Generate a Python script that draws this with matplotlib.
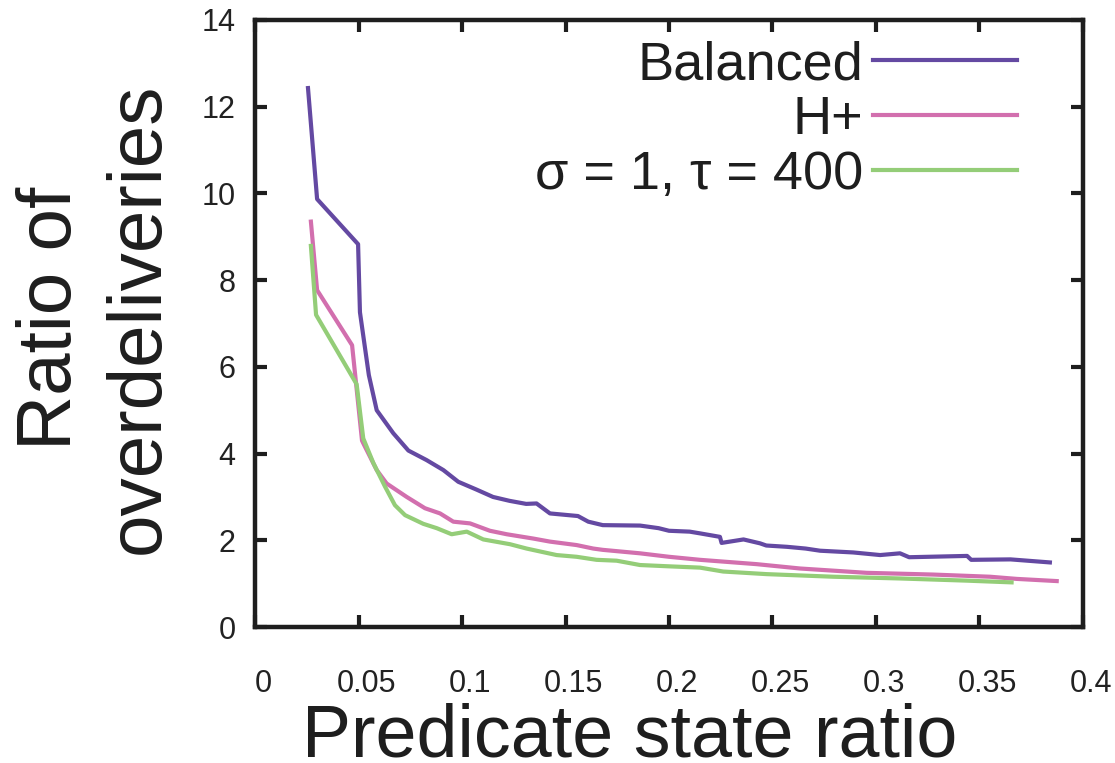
import matplotlib
matplotlib.use('Agg')
import matplotlib.pyplot as plt
import matplotlib.transforms as mtransforms

plt.rcParams['font.family'] = ['Liberation Sans', 'DejaVu Sans']

#### DATA ####
balanced_x = [0.0256, 0.0300, 0.0498, 0.0507, 0.055, 0.0588, 0.0668, 0.0741, 0.0829, 0.091,
              0.0982, 0.107, 0.115, 0.123, 0.131, 0.136, 0.1425, 0.156, 0.161, 0.168,
              0.186, 0.195, 0.200, 0.210, 0.215, 0.2246, 0.2254, 0.236, 0.244, 0.247,
              0.257, 0.266, 0.273, 0.289, 0.302, 0.3116, 0.316, 0.344, 0.346, 0.365, 0.384]
balanced_y = [12.43, 9.87, 8.83, 7.26, 5.81, 5.0, 4.47, 4.07, 3.85, 3.62,
              3.35, 3.17, 3.0, 2.91, 2.84, 2.85, 2.62, 2.56, 2.43, 2.35,
              2.34, 2.28, 2.22, 2.20, 2.16, 2.08, 1.94, 2.02, 1.93, 1.88,
              1.85, 1.81, 1.76, 1.72, 1.66, 1.70, 1.61, 1.64, 1.55, 1.56, 1.49]

hplus_x = [0.027, 0.030, 0.0469, 0.0517, 0.0523, 0.0588, 0.0636, 0.0733, 0.0821, 0.0894,
           0.0958, 0.1039, 0.1135, 0.1216, 0.1345, 0.1425, 0.1554, 0.1634, 0.168, 0.186,
           0.200, 0.215, 0.2424, 0.2633, 0.2955, 0.3277, 0.3551, 0.368, 0.3873]
hplus_y = [9.35, 7.77, 6.5, 4.3, 4.24, 3.62, 3.31, 3.0, 2.74, 2.62,
           2.43, 2.39, 2.22, 2.14, 2.04, 1.97, 1.89, 1.81, 1.78, 1.70,
           1.62, 1.55, 1.45, 1.35, 1.25, 1.21, 1.16, 1.11, 1.06]

sigma_x = [0.027, 0.0295, 0.0491, 0.0523, 0.0572, 0.0628, 0.0676, 0.0725, 0.0813, 0.0878,
           0.095, 0.1023, 0.1103, 0.1232, 0.1312, 0.1457, 0.1554, 0.165, 0.1747, 0.186,
           0.200, 0.215, 0.2262, 0.2472, 0.2794, 0.3116, 0.3438, 0.3655]
sigma_y = [8.79, 7.2, 5.6, 4.35, 3.78, 3.24, 2.81, 2.58, 2.38, 2.28,
           2.14, 2.20, 2.02, 1.91, 1.81, 1.66, 1.62, 1.55, 1.53, 1.43,
           1.40, 1.37, 1.28, 1.22, 1.16, 1.12, 1.07, 1.03]

labels = ['Balanced', 'H+', 'σ = 1, τ = 400']
colors = ['#6449a2', '#d26fae', '#94cd78']

xticks = [0, 0.05, 0.1, 0.15, 0.2, 0.25, 0.3, 0.35, 0.4]
xtick_labels = ['0', '0.05', '0.1', '0.15', '0.2', '0.25', '0.3', '0.35', '0.4']
yticks = [0, 2, 4, 6, 8, 10, 12, 14]

#### PLOT ####
fig = plt.figure(figsize=(11.15, 7.63), dpi=100)
ax = fig.add_axes([0.2287, 0.1782, 0.7426, 0.7956])

ax.plot(balanced_x, balanced_y, color=colors[0], lw=3, label=labels[0])
ax.plot(hplus_x, hplus_y, color=colors[1], lw=3, label=labels[1])
ax.plot(sigma_x, sigma_y, color=colors[2], lw=3, label=labels[2])

ax.set_xlim(0, 0.4)
ax.set_ylim(0, 14)
ax.set_xticks(xticks)
ax.set_xticklabels(xtick_labels)
ax.set_yticks(yticks)

for s in ax.spines.values():
    s.set_linewidth(3.2)
    s.set_color('#1e1e1e')

ax.tick_params(direction='in', length=8.5, width=3, color='#1e1e1e',
               top=True, right=True, labelsize=22, labelcolor='#222222')
ax.tick_params(axis='x', pad=30)
ax.tick_params(axis='y', pad=14)

# x tick labels sit a little right of their ticks in the original
shift = mtransforms.ScaledTranslation(8 / 100, 0, fig.dpi_scale_trans)
for lab in ax.get_xticklabels():
    lab.set_transform(lab.get_transform() + shift)

# axis labels (gnuplot style: big, placed by hand)
ax.set_xlabel('Predicate state ratio', fontsize=53, color='#1e1e1e')
ax.xaxis.label.set_va('baseline')
ax.xaxis.set_label_coords(0.4529, -0.2125)
ax.set_ylabel('Ratio of\noverdeliveries', fontsize=55, color='#1e1e1e',
              linespacing=1.31)
ax.yaxis.set_label_coords(-0.0966, 0.509)

ax.legend(loc='upper right', bbox_to_anchor=(0.920, 0.967), frameon=False,
          markerfirst=False, fontsize=39, handlelength=2.65, handletextpad=0.18,
          labelspacing=0.09, borderpad=0, borderaxespad=0, labelcolor='#1e1e1e')

fig.savefig('out.png', dpi=100)
